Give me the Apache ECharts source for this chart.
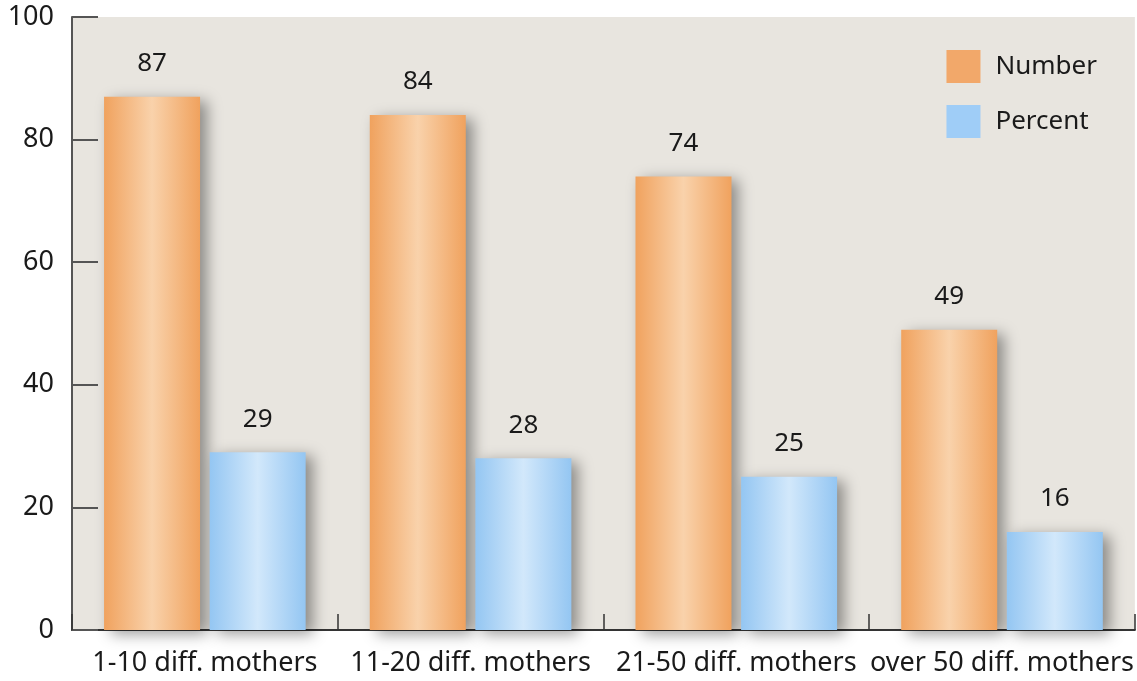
<!DOCTYPE html>
<html>
<head>
<meta charset="utf-8">
<title>Bar chart</title>
<script src="https://cdn.jsdelivr.net/npm/echarts@6/dist/echarts.min.js"></script>
<style>
  html, body { margin: 0; padding: 0; background: #fff; }
  #main { width: 1137px; height: 681px; }
</style>
</head>
<body>
<div id="main"></div>
<script>
// data
var categories = ['1-10 diff. mothers', '11-20 diff. mothers', '21-50 diff. mothers', 'over 50 diff. mothers'];
var numberVals = [87, 84, 74, 49];
var percentVals = [29, 28, 25, 16];

var font = 'Noto Sans';

function hGrad(edge, mid) {
  return new echarts.graphic.LinearGradient(0, 0, 1, 0, [
    { offset: 0, color: edge },
    { offset: 0.5, color: mid },
    { offset: 1, color: edge }
  ]);
}

var chart = echarts.init(document.getElementById('main'));

var option = {
  backgroundColor: '#fff',
  textStyle: { fontFamily: font },
  grid: {
    left: 72, right: 2, top: 17, bottom: 51,
    show: true,
    backgroundColor: '#e8e5df',
    borderWidth: 0
  },
  legend: {
    right: 35, top: 45,
    orient: 'vertical',
    itemWidth: 34, itemHeight: 33, itemGap: 22,
    icon: 'rect',
    textStyle: { fontSize: 26, color: '#1a1a1a', padding: [0, 0, 0, 10] },
    data: [
      { name: 'Number', itemStyle: { color: '#f2a86a' } },
      { name: 'Percent', itemStyle: { color: '#9fcdf7' } }
    ]
  },
  xAxis: {
    type: 'category',
    data: categories,
    axisLine: { lineStyle: { color: '#333', width: 2 } },
    axisTick: { show: true, inside: true, length: 16, lineStyle: { color: '#333', width: 1.5 } },
    axisLabel: { fontSize: 27, color: '#1a1a1a', margin: 20, interval: 0 }
  },
  yAxis: {
    type: 'value',
    min: 0, max: 100, interval: 20,
    splitLine: { show: false },
    axisLine: { show: true, lineStyle: { color: '#555', width: 2 } },
    axisTick: { show: true, inside: true, length: 26, lineStyle: { color: '#555', width: 2 } },
    axisLabel: { fontSize: 27, color: '#1a1a1a', margin: 18 }
  },
  series: [
    {
      name: 'Number',
      type: 'bar',
      data: numberVals,
      barWidth: 96,
      barGap: '10%',
      itemStyle: {
        color: hGrad('#f0a25e', '#f9d2ab'),
        shadowColor: 'rgba(0,0,0,0.4)',
        shadowBlur: 14,
        shadowOffsetX: 7,
        shadowOffsetY: 4
      },
      label: { show: true, position: 'top', distance: 20, fontSize: 26, color: '#1a1a1a' }
    },
    {
      name: 'Percent',
      type: 'bar',
      data: percentVals,
      barWidth: 96,
      itemStyle: {
        color: hGrad('#94c6f2', '#d2e8fb'),
        shadowColor: 'rgba(0,0,0,0.4)',
        shadowBlur: 14,
        shadowOffsetX: 7,
        shadowOffsetY: 4
      },
      label: { show: true, position: 'top', distance: 20, fontSize: 26, color: '#1a1a1a' }
    }
  ]
};
chart.setOption(option);
</script>
</body>
</html>
